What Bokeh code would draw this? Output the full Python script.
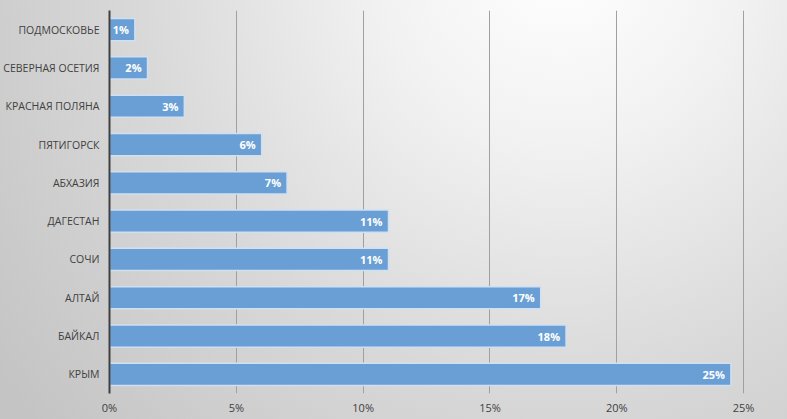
from bokeh.plotting import figure
from bokeh.models import ColumnDataSource, FixedTicker, Range1d, FactorRange
from bokeh.core.properties import value
from bokeh.embed import file_html
from bokeh.resources import INLINE

regions = ["ПОДМОСКОВЬЕ", "СЕВЕРНАЯ ОСЕТИЯ", "КРАСНАЯ ПОЛЯНА", "ПЯТИГОРСК", "АБХАЗИЯ",
           "ДАГЕСТАН", "СОЧИ", "АЛТАЙ", "БАЙКАЛ", "КРЫМ"]
shares = [1.0, 1.5, 2.95, 6.0, 7.0, 11.0, 11.0, 17.0, 18.0, 24.5]
bar_labels = ["1%", "2%", "3%", "6%", "7%", "11%", "11%", "17%", "18%", "25%"]
x_ticks = [0, 5, 10, 15, 20, 25]
x_tick_labels = ["0%", "5%", "10%", "15%", "20%", "25%"]

FONT = "Open Sans"

src = ColumnDataSource(dict(region=regions, share=shares, label=bar_labels))

p = figure(width=787, height=419, output_backend="svg", toolbar_location=None,
           y_range=FactorRange(*list(reversed(regions)), range_padding=0),
           x_range=Range1d(0, 26.73),
           min_border_left=108, min_border_right=0, min_border_top=10, min_border_bottom=26)
p.styles = {"position": "absolute", "left": "0px", "top": "0px",
            "background": "radial-gradient(circle at 560px -40px, #ffffff 0px, #f2f2f2 180px, #d8d8d8 430px, #c4c4c4 700px)"}
p.background_fill_alpha = 0
p.border_fill_alpha = 0
p.outline_line_color = None

p.hbar(y="region", right="share", left=0, height=0.58, source=src,
       fill_color="#6a9fd5", line_color="#cfe0f2", line_width=1.5)

p.text(x="share", y="region", text="label", source=src, x_offset=-6,
       text_align="right", text_baseline="middle", text_color="white",
       text_font=value(FONT), text_font_style="bold", text_font_size="11px")

p.xaxis.ticker = FixedTicker(ticks=x_ticks)
p.xaxis.major_label_overrides = {t: l for t, l in zip(x_ticks, x_tick_labels)}
p.xaxis.axis_line_color = None
p.xaxis.major_tick_line_color = None
p.xaxis.minor_tick_line_color = None
p.xaxis.major_tick_out = 0
p.xaxis.major_tick_in = 0
p.xaxis.minor_tick_out = 0
p.xaxis.major_label_standoff = 6
p.xaxis.major_label_text_font = FONT
p.xaxis.major_label_text_font_size = "11px"
p.xaxis.major_label_text_color = "#404040"

p.yaxis.axis_line_color = "#404040"
p.yaxis.axis_line_width = 2
p.yaxis.major_tick_line_color = None
p.yaxis.minor_tick_line_color = None
p.yaxis.major_tick_out = 0
p.yaxis.major_tick_in = 0
p.yaxis.minor_tick_out = 0
p.yaxis.major_label_standoff = 10
p.yaxis.major_label_text_font = FONT
p.yaxis.major_label_text_font_size = "10.5px"
p.yaxis.major_label_text_color = "#404040"

p.ygrid.grid_line_color = None
p.xgrid.grid_line_color = "#a0a0a0"
p.xgrid.grid_line_width = 1

open("out.html", "w").write(file_html(p, INLINE))
